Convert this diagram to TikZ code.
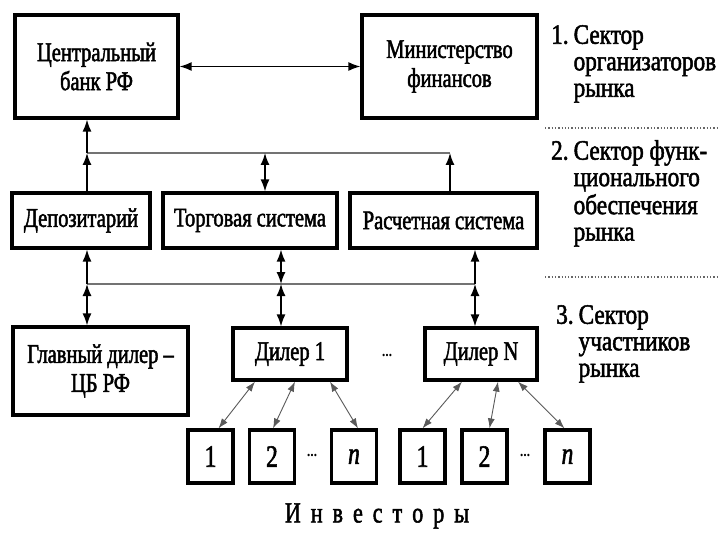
\documentclass[tikz,border=0pt]{standalone}
\usepackage{fontspec}
\setmainfont{Liberation Serif}[FakeStretch=0.76,FakeBold=1.8]
\newfontfamily\sidefont{Liberation Serif}[FakeStretch=0.83,FakeBold=1.8]
\usetikzlibrary{arrows.meta}
\begin{document}
\begin{tikzpicture}[x=1pt,y=-1pt,
  box/.style={draw,line width=3.2pt,align=center,inner sep=0pt,
    font=\fontsize{27}{29}\selectfont},
  inv/.style={draw,line width=3.2pt,inner sep=0pt,minimum width=45pt,minimum height=53pt,
    font=\fontsize{31}{31}\selectfont},
  arr/.style={line width=1.4pt,-{Latex[length=12pt,width=9pt]}},
  biarr/.style={line width=1.4pt,{Latex[length=12pt,width=9pt]}-{Latex[length=12pt,width=9pt]}},
  bus/.style={line width=1.8pt,black!55},
  diag/.style={line width=0.9pt,black!65,{Latex[length=10pt,width=7pt]}-{Latex[length=10pt,width=7pt]}},
  sep/.style={line width=1.3pt,dotted,black!60},
  side/.style={anchor=north west,inner sep=0pt,align=left,
    font=\sidefont\fontsize{28}{26.5}\selectfont},
  txt/.style={inner sep=0pt,font=\fontsize{27}{29}\selectfont}]
\useasboundingbox (0,0) rectangle (720,540);
% top row
\node[box,minimum width=163pt,minimum height=103pt] (cb) at (96.5,66.5) {Центральный\\банк РФ};
\node[box,minimum width=175pt,minimum height=103pt] (mf) at (449.5,66.5) {Министерство\\финансов};
% middle row
\node[box,minimum width=138pt,minimum height=55pt] (dep) at (81,220.5) {Депозитарий};
\node[box,minimum width=174pt,minimum height=55pt] (torg) at (250,220.5) {Торговая система};
\node[box,minimum width=187pt,minimum height=55pt] (ras) at (443.5,220.5) {Расчетная система};
% dealers
\node[box,minimum width=175pt,minimum height=88pt] (gd) at (100.5,371) {Главный дилер --\\ЦБ РФ};
\node[box,minimum width=114pt,minimum height=52pt] (d1) at (290,354) {Дилер 1};
\node[txt,font=\fontsize{18}{20}\selectfont] (ddots) at (387,355) {...};
\node[box,minimum width=112pt,minimum height=52pt] (dn) at (481,354) {Дилер N};
% investors
\node[inv] (i11) at (210.5,456.5) {1};
\node[inv] (i12) at (272,456.5) {2};
\node[txt,font=\fontsize{18}{20}\selectfont] (idots1) at (312,455) {...};
\node[inv] (i1n) at (354,456.5) {\textit{n}};
\node[inv] (i21) at (422.5,456.5) {1};
\node[inv] (i22) at (484.5,456.5) {2};
\node[txt,font=\fontsize{18}{20}\selectfont] (idots2) at (525,455) {...};
\node[inv] (i2n) at (567.5,456.5) {\textit{n}};
\node[txt,font=\fontsize{29}{29}\selectfont] (invest) at (377,516) {И\hspace{10pt}н\hspace{10pt}в\hspace{10pt}е\hspace{10pt}с\hspace{10pt}т\hspace{10pt}о\hspace{10pt}р\hspace{10pt}ы};
% sector labels
\node[side] (s1) at (551,25) {\begin{tabular}{@{}l@{\hspace{5pt}}l@{}}1. & Сектор\\ & организаторов\\ & рынка\end{tabular}};
\node[side] (s2) at (551,140) {\begin{tabular}{@{}l@{\hspace{5pt}}l@{}}2. & Сектор функ-\\ & ционального\\ & обеспечения\\ & рынка\end{tabular}};
\node[side] (s3) at (556,305) {\begin{tabular}{@{}l@{\hspace{5pt}}l@{}}3. & Сектор\\ & участников\\ & рынка\end{tabular}};
\coordinate (sepA1) at (545,128);
\coordinate (sepA2) at (720,128);
\coordinate (sepB1) at (545,277);
\coordinate (sepB2) at (720,277);
\draw[sep] (sepA1) -- (sepA2);
\draw[sep] (sepB1) -- (sepB2);
% bus coordinates
\coordinate (b1a) at (87,153);
\coordinate (b1b) at (265,153);
\coordinate (b1c) at (450,153);
\coordinate (b2a) at (87,284);
\coordinate (b2b) at (281,284);
\coordinate (b2c) at (475,284);
% connectors
\draw[biarr] (cb.east) -- (mf.west);
\draw[bus] (b1a) -- (b1c);
\draw[arr] (dep.north -| b1a) -- (b1a);
\draw[arr] (b1a) -- (cb.south -| b1a);
\draw[biarr] (torg.north -| b1b) -- (b1b);
\draw[arr] (ras.north -| b1c) -- (b1c);
\draw[bus] (b2a) -- (b2c);
\draw[arr] (b2a) -- (dep.south -| b2a);
\draw[biarr] (b2a) -- (gd.north -| b2a);
\draw[biarr] (torg.south -| b2b) -- (b2b);
\draw[biarr] (b2b) -- (d1.north -| b2b);
\draw[arr] (b2c) -- (ras.south -| b2c);
\draw[biarr] (b2c) -- (dn.north -| b2c);
% dealer to investors
\draw[diag] ([xshift=-35pt]d1.south) -- ([xshift=8pt]i11.north);
\draw[diag] ([xshift=5pt]d1.south) -- ([xshift=1pt]i12.north);
\draw[diag] ([xshift=40pt]d1.south) -- ([xshift=4pt]i1n.north);
\draw[diag] ([xshift=-19pt]dn.south) -- (i21.north);
\draw[diag] ([xshift=17pt]dn.south) -- ([xshift=5pt]i22.north);
\draw[diag] ([xshift=37pt]dn.south) -- ([xshift=-3pt]i2n.north);
\end{tikzpicture}
\end{document}
